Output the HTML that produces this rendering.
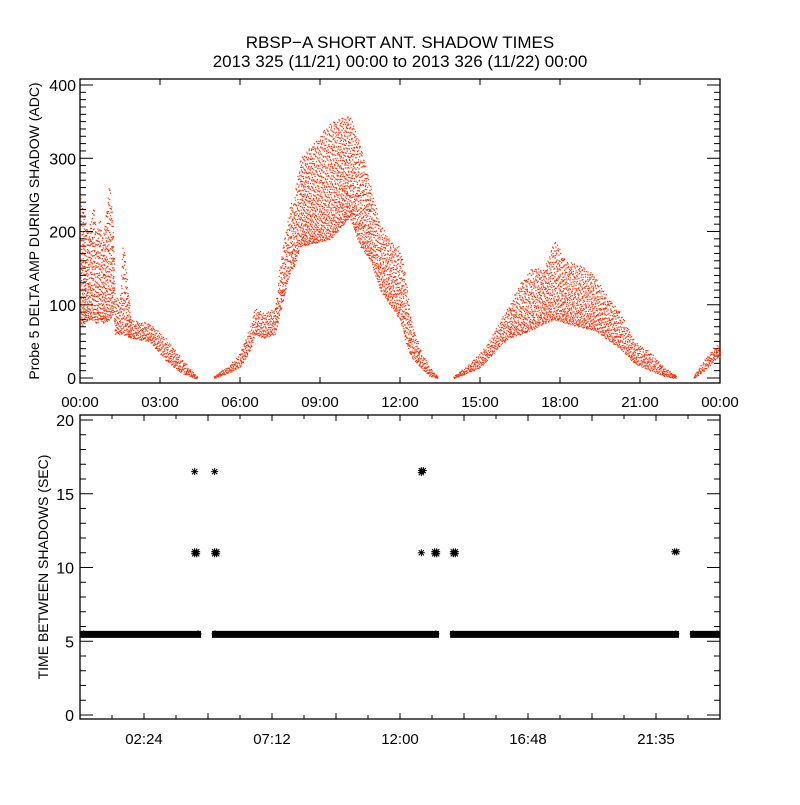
<!DOCTYPE html>
<html><head><meta charset="utf-8"><style>
body{margin:0;background:#fff}
svg text{font-family:"Liberation Sans",sans-serif;fill:#000}
</style></head><body>
<svg id="c" width="800" height="800" xmlns="http://www.w3.org/2000/svg">
<rect width="800" height="800" fill="#fff"/>
<text x="400" y="48" font-size="17" text-anchor="middle">RBSP−A SHORT ANT. SHADOW TIMES</text>
<text x="400" y="67" font-size="17" text-anchor="middle">2013 325 (11/21) 00:00 to 2013 326 (11/22) 00:00</text>
<text transform="translate(39,231) rotate(-90)" font-size="14" text-anchor="middle">Probe 5 DELTA AMP DURING SHADOW (ADC)</text>
<text transform="translate(48,567) rotate(-90)" font-size="14" text-anchor="middle">TIME BETWEEN SHADOWS (SEC)</text>
<g id="top"></g>
<g id="bot"></g>
</svg>
<script>
// top panel envelope data (hours, low, high ADC)
const ampTimes=[0.0,0.3,0.5,0.6,0.75,0.85,1.1,1.25,1.3,1.5,1.6,1.9,2.6,3.2,3.75,4.3,4.4, 5.0,5.6,6.0,6.4,6.55,6.9,7.3,7.5,7.9,8.0,8.25,9.4,10.1,10.5,10.9,11.25,11.8,12.0,12.2,12.4,12.75,13.1,13.4, 14.0,14.6,15.0,15.4,15.75,16.1,16.5,16.9,17.4,17.8,18.2,18.75,19.3,19.7,20.25,20.8,21.4,21.9,22.3,22.35, 23.0,23.4,23.8,24.0];
const ampLow=[70,80,80,75,80,75,80,90,60,60,60,55,50,25,8,0,0, 0,8,15,40,60,55,60,90,150,150,180,190,220,180,160,120,90,80,50,30,15,3,0, 0,8,15,30,45,55,60,65,75,80,75,70,65,55,40,20,10,3,0,0, 0,10,25,30];
const ampHigh=[250,200,236,200,220,190,270,200,110,110,195,80,75,55,30,5,3, 3,18,35,75,95,90,95,160,240,240,300,350,360,320,260,210,180,180,140,80,40,15,3, 3,20,35,55,80,100,130,150,150,190,160,155,140,115,90,50,35,15,5,3, 3,25,45,45];
const gapStarts=[4.4,13.4,22.35];
// bottom panel
const bandValue=5.5;
const bandStarts=[0.02,4.95,13.88,22.88];
const bandEnds=[4.54,13.46,22.46,24.0];
const outTimes=[4.3,4.3,5.05,5.05,12.8,12.8,13.3,14.0,22.3];
const outValues=[16.5,11,16.5,11,16.5,11,11,11,11];
const outCount=[1,4,1,4,3,1,4,4,2];
const topYTicks=[0,100,200,300,400];
const topXTicks=[0,3,6,9,12,15,18,21,24];
const topXLabels=["00:00","03:00","06:00","09:00","12:00","15:00","18:00","21:00","00:00"];
const botYTicks=[0,5,10,15,20];
const botXTicks=[2.4,7.2,12,16.8,21.6];
const botXLabels=["02:24","07:12","12:00","16:48","21:35"];

const NS="http://www.w3.org/2000/svg";
function mk(p,t,a){const e=document.createElementNS(NS,t);for(const k in a)e.setAttribute(k,a[k]);p.appendChild(e);return e;}
const L=80,R=720;
const xs=h=>L+(R-L)*h/24;
const yTop=v=>378-v*0.7325;
const yBot=v=>715-v*14.75;
const T=document.getElementById('top'),B=document.getElementById('bot');

let f=mk(T,'rect',{x:L,y:79,width:R-L,height:304,fill:'none',stroke:'#000','stroke-width':1.3});


for(let v=0;v<=408;v+=10){const y=yTop(v);const len=v%100===0?13:6;
 mk(T,'line',{x1:L,x2:L+len,y1:y,y2:y,stroke:'#000'});mk(T,'line',{x1:R,x2:R-len,y1:y,y2:y,stroke:'#000'});}
topYTicks.forEach(v=>{const t=mk(T,'text',{x:L-4,y:yTop(v)+6,'font-size':16,'text-anchor':'end'});t.textContent=v;
 
 });
topXTicks.forEach((h,i)=>{const x=xs(h);mk(T,'line',{x1:x,x2:x,y1:383,y2:377,stroke:'#000'});mk(T,'line',{x1:x,x2:x,y1:79,y2:85,stroke:'#000'});
 const t=mk(T,'text',{x:x,y:407,'font-size':15,'text-anchor':'middle'});t.textContent=topXLabels[i];
 
 });

function halton(i,b){let f=1,r=0;while(i>0){f/=b;r+=f*(i%b);i=Math.floor(i/b);}return r;}
const dots=mk(T,'g',{fill:'#ff2a00'});


let seq=1;let d='';
for(let i=0;i<ampTimes.length-1;i++){
 const t0=ampTimes[i],t1=ampTimes[i+1];
 if(gapStarts.includes(t0))continue;
 const x0=xs(t0),x1=xs(t1),w=x1-x0;
 const lo=ampLow[i],hi=ampHigh[i],lo2=ampLow[i+1],hi2=ampHigh[i+1];
 const area=w*((yTop(lo)-yTop(hi))+(yTop(lo2)-yTop(hi2)))/2;
 const n=Math.round(area*0.22+w*2);
 for(let k=0;k<n;k++){seq++;
  const fx=halton(seq,2),u=Math.pow(halton(seq,3),1.25);
  const a=lo+(lo2-lo)*fx,b=hi+(hi2-hi)*fx;
  const x=x0+fx*w,y=yTop(a)-u*(yTop(a)-yTop(b));
  d+=`M${x.toFixed(1)} ${y.toFixed(1)}h1.2v1.2h-1.2z`;}
}
mk(dots,'path',{d:d});

f=mk(B,'rect',{x:L,y:415,width:R-L,height:304,fill:'none',stroke:'#000','stroke-width':1.3});


for(let v=0;v<=20;v+=1){const y=yBot(v);const len=v%5===0?13:6;
 mk(B,'line',{x1:L,x2:L+len,y1:y,y2:y,stroke:'#000'});mk(B,'line',{x1:R,x2:R-len,y1:y,y2:y,stroke:'#000'});}
botYTicks.forEach(v=>{const t=mk(B,'text',{x:L-6,y:yBot(v)+6,'font-size':16,'text-anchor':'end'});t.textContent=v;
 
 });
for(let h=1.2;h<24;h+=1.2){const x=xs(h);const maj=Math.abs((h/2.4)-Math.round(h/2.4))<0.01;const len=maj?6:4;
 mk(B,'line',{x1:x,x2:x,y1:719,y2:719-len,stroke:'#000'});mk(B,'line',{x1:x,x2:x,y1:415,y2:415+len,stroke:'#000'});}
botXTicks.forEach((h,i)=>{const t=mk(B,'text',{x:xs(h),y:744,'font-size':15,'text-anchor':'middle'});t.textContent=botXLabels[i];
 
 });
function star(g,x,y){const r=3.5;let p='';
 p+=`M${x-r} ${y}H${x+r}M${x} ${y-r}V${y+r}M${x-r*0.75} ${y-r*0.75}L${x+r*0.75} ${y+r*0.75}M${x-r*0.75} ${y+r*0.75}L${x+r*0.75} ${y-r*0.75}`;
 mk(g,'path',{d:p,stroke:'#000','stroke-width':1,fill:'none'});}
bandStarts.forEach((s,i)=>{
 const g=mk(B,'g',{});
 
 
 const x0=xs(s),x1=xs(bandEnds[i]),y=yBot(bandValue);
 mk(g,'rect',{x:x0,y:y-3,width:x1-x0,height:7,fill:'#000'});
 star(g,x0+3,y);star(g,x1-3,y);
});
outTimes.forEach((t,i)=>{
 const g=mk(B,'g',{});
 
 
 const x=xs(t),y=yBot(outValues[i]);
 for(let k=0;k<outCount[i];k++)star(g,x+(k%2)*2,y+Math.floor(k/2)*2-(outCount[i]>1?1:0));
});
</script>
</body></html>
